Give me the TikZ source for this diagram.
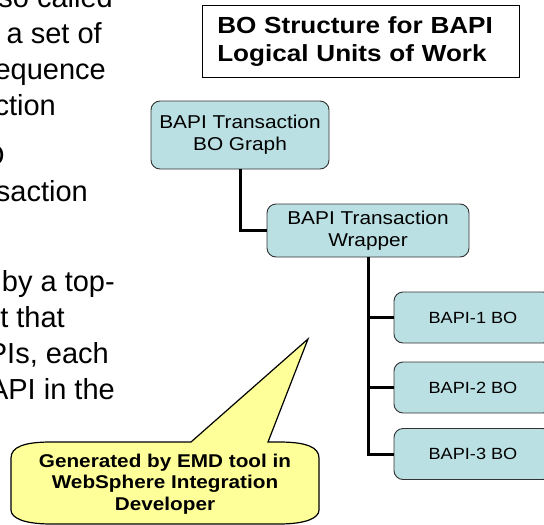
\documentclass[tikz,border=0pt]{standalone}
\usepackage{fontspec}
\setmainfont{Liberation Sans}
\newfontfamily\wideface[FakeStretch=1.12]{Liberation Sans}
\usepackage{xcolor}
\usepackage{tikz}
\usetikzlibrary{positioning}

\definecolor{boblue}{HTML}{BBE0E3}
\definecolor{noteyellow}{HTML}{FFFF99}

\begin{document}
\begin{tikzpicture}[
		x = 1pt, y = -1pt,
		slide/.style   = {anchor=base east, inner sep=0pt, font=\fontsize{29}{36}\selectfont},
		heading/.style = {draw, line width=1.2pt, align=left, text width=287pt,
			inner xsep=15pt, minimum height=72pt,
			font=\wideface\bfseries\fontsize{23.3}{28}\selectfont},
		bo/.style      = {draw=black!80, line width=0.9pt, fill=boblue,
			rounded corners=9pt, align=center,
			font=\wideface\fontsize{18.6}{22}\selectfont},
		leaf/.style    = {bo, minimum width=158pt, minimum height=51pt,
			font=\wideface\fontsize{16.2}{20}\selectfont},
		link/.style    = {line width=3pt},
		note/.style    = {draw, line width=1.2pt, fill=noteyellow},
		notetext/.style = {align=center, font=\wideface\bfseries\fontsize{18.5}{21.5}\selectfont}
	]
	\path [use as bounding box, clip] (0,0) rectangle (544,525);

	\node [slide] (called)   at (113,7)   {so called};
	\node [slide] (setof)    at (102,43)  {a set of};
	\node [slide] (sequence) at (106,79)  {sequence};
	\node [slide] (action)   at (56,115)  {action};
	\node [slide] (bo)       at (5,165)   {BO};
	\node [slide] (trans)    at (88,201)  {transaction};
	\node [slide] (top)      at (115,291) {by a top-};
	\node [slide] (that)     at (65,327)  {object that};
	\node [slide] (each)     at (109,363) {BAPIs, each};
	\node [slide] (inthe)    at (115,399) {BAPI in the};

	\node [heading] (title) at (360.8,41.5) {BO Structure for BAPI\\Logical Units of Work};

	\node [bo, minimum width=178pt, minimum height=68pt] (graph)   at (240,135)   {BAPI Transaction\\BO Graph};
	\node [bo, minimum width=202pt, minimum height=53pt] (wrapper) at (368,230.5) {BAPI Transaction\\Wrapper};
	\node [leaf] (bapi1) at (473,317.5) {BAPI-1 BO};
	\node [leaf] (bapi2) at (473,387.5) {BAPI-2 BO};
	\node [leaf] (bapi3) at (473,454)   {BAPI-3 BO};

	\draw [link] (graph.south) |- (wrapper.west);
	\draw [link] (wrapper.south) |- (bapi1.west);
	\draw [link] (wrapper.south) |- (bapi2.west);
	\draw [link] (wrapper.south) |- (bapi3.west);

	\coordinate (tip) at (308,339);
	\draw [note] (191,442) -- (tip) -- (268,442) -- (279,442)
		.. controls (306,442) and (319,447) .. (319,458) -- (319,510)
		.. controls (319,518) and (306,524) .. (279,524) -- (51,524)
		.. controls (24,524) and (11,518) .. (11,510) -- (11,458)
		.. controls (11,447) and (24,442) .. (51,442) -- cycle;
	\node [notetext] (generated) at (165,484) {Generated by EMD tool in\\WebSphere Integration\\Developer};
\end{tikzpicture}
\end{document}
